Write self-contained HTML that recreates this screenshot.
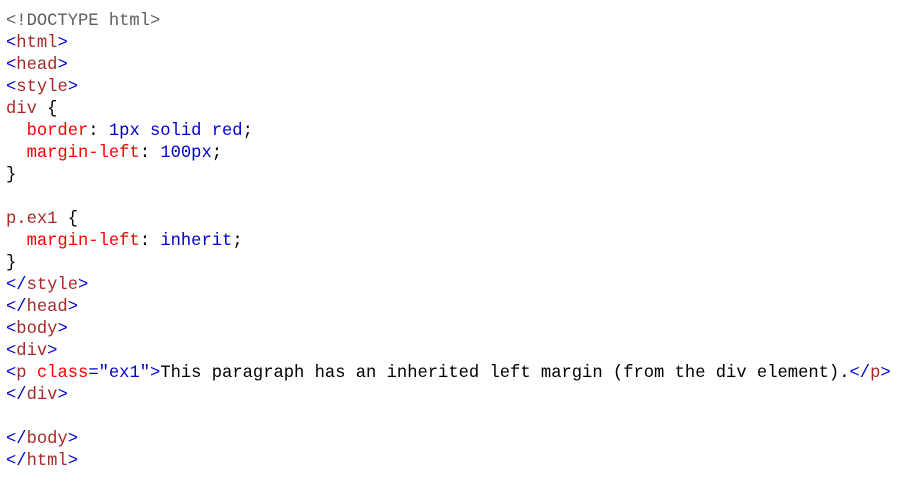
<!DOCTYPE html>
<html><head><style>
body{margin:0;background:#fff;width:910px;height:482px;overflow:hidden}
pre{margin:0;position:absolute;left:6px;top:11px;font-family:"Liberation Mono",monospace;font-size:17.15px;line-height:22px;color:#000}
.g{color:#5f5f5f}.b{color:#0000cd}.t{color:#a52a2a}.r{color:#ff0000}.s{color:#a52a2a}
</style></head><body><pre><span class="g">&lt;!DOCTYPE html&gt;</span>
<span class="b">&lt;</span><span class="t">html</span><span class="b">&gt;</span>
<span class="b">&lt;</span><span class="t">head</span><span class="b">&gt;</span>
<span class="b">&lt;</span><span class="t">style</span><span class="b">&gt;</span>
<span class="s">div</span> {
  <span class="r">border</span>: <span class="b">1px solid red</span>;
  <span class="r">margin-left</span>: <span class="b">100px</span>;
}

<span class="s">p.ex1</span> {
  <span class="r">margin-left</span>: <span class="b">inherit</span>;
}
<span class="b">&lt;/</span><span class="t">style</span><span class="b">&gt;</span>
<span class="b">&lt;/</span><span class="t">head</span><span class="b">&gt;</span>
<span class="b">&lt;</span><span class="t">body</span><span class="b">&gt;</span>
<span class="b">&lt;</span><span class="t">div</span><span class="b">&gt;</span>
<span class="b">&lt;</span><span class="t">p</span><span class="r"> class</span><span class="b">="ex1"&gt;</span>This paragraph has an inherited left margin (from the div element).<span class="b">&lt;/</span><span class="t">p</span><span class="b">&gt;</span>
<span class="b">&lt;/</span><span class="t">div</span><span class="b">&gt;</span>

<span class="b">&lt;/</span><span class="t">body</span><span class="b">&gt;</span>
<span class="b">&lt;/</span><span class="t">html</span><span class="b">&gt;</span></pre></body></html>
